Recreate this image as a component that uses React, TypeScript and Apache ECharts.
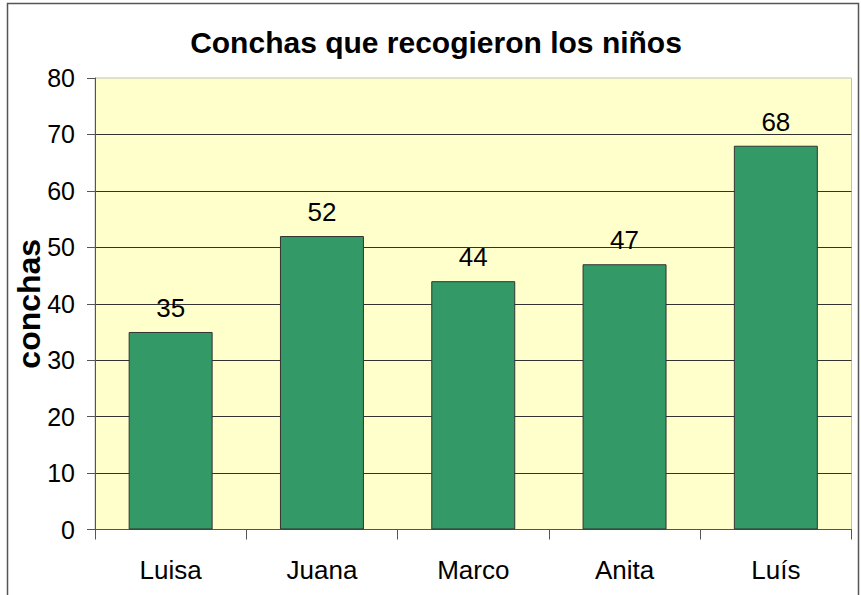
import React, { useEffect, useRef } from "react";
import * as echarts from "echarts";

const categories = ["Luisa", "Juana", "Marco", "Anita", "Luís"];
const values = [35, 52, 44, 47, 68];
const titleText = "Conchas que recogieron los niños";
const yName = "conchas";

export default function App() {
  const ref = useRef<HTMLDivElement>(null);
  useEffect(() => {
    const chart = echarts.init(ref.current!, null, { renderer: "svg" });
    const font = "'Liberation Sans', Arial, sans-serif";
    chart.setOption({
      animation: false,
      backgroundColor: "#ffffff",
      textStyle: { fontFamily: font },
      title: {
        text: titleText,
        left: 431,
        textAlign: "center",
        top: 22,
        textStyle: { fontFamily: font, fontSize: 30, fontWeight: "bold", color: "#000" },
      },
      graphic: [
        {
          type: "rect",
          shape: { x: 7.5, y: 3.5, width: 851, height: 620 },
          style: { fill: "none", stroke: "#555", lineWidth: 1.5 },
          silent: true,
          z: -1,
        },
      ],
      grid: {
        left: 95,
        right: 9.5,
        top: 78,
        bottom: 65.5,
        containLabel: false,
        outerBoundsMode: "none",
        show: true,
        backgroundColor: "#FFFFCC",
        borderColor: "#c0c0c0",
        borderWidth: 1,
      },
      xAxis: {
        type: "category",
        data: categories,
        axisLine: { lineStyle: { color: "#555", width: 1 } },
        axisTick: { show: true, length: 10, alignWithLabel: false, lineStyle: { color: "#555" } },
        axisLabel: { fontSize: 26, color: "#000", margin: 27, fontFamily: font },
      },
      yAxis: {
        type: "value",
        min: 0,
        max: 80,
        interval: 10,
        name: yName,
        nameLocation: "middle",
        nameGap: 50,
        nameMoveOverlap: false,
        nameTextStyle: { fontSize: 32, fontWeight: "bold", color: "#000", fontFamily: font },
        axisLine: { show: true, lineStyle: { color: "#555", width: 1 } },
        axisTick: { show: true, length: 8, lineStyle: { color: "#555" } },
        axisLabel: { fontSize: 25, color: "#000", margin: 20, fontFamily: font },
        splitLine: { show: true, showMaxLine: false, lineStyle: { color: "#333", width: 1 } },
      },
      series: [
        {
          type: "bar",
          data: values,
          barWidth: "55.5%",
          itemStyle: { color: "#339966", borderColor: "#333", borderWidth: 1 },
          label: {
            show: true,
            position: "top",
            distance: 11,
            fontSize: 26,
            color: "#000",
            fontFamily: font,
          },
        },
      ],
    });
    return () => chart.dispose();
  }, []);
  return <div ref={ref} style={{ width: 861, height: 595, position: "absolute", left: 0, top: 0 }} />;
}
